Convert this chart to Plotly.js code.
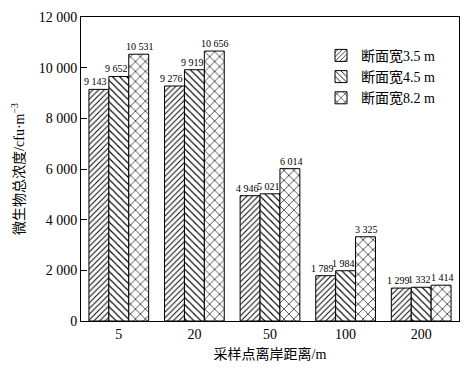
<!DOCTYPE html>
<html>
<head>
<meta charset="utf-8">
<script src="https://cdn.plot.ly/plotly-3.0.1.min.js"></script>
<style>html,body{margin:0;padding:0;background:#fff;}#chart{width:473px;height:372px;}</style>
</head>
<body>
<div id="chart"></div>
<script>
const categories = ["5", "20", "50", "100", "200"];
const seriesNames = ["断面宽3.5 m", "断面宽4.5 m", "断面宽8.2 m"];
const width35 = [9143, 9276, 4946, 1789, 1299];
const width45 = [9652, 9919, 5021, 1984, 1332];
const width82 = [10531, 10656, 6014, 3325, 1414];
const yTickVals = [0, 2000, 4000, 6000, 8000, 10000, 12000];
const yTickText = ["0", "2 000", "4 000", "6 000", "8 000", "10 000", "12 000"];

const serif = "Liberation Serif, Times New Roman, serif";
const cjk = "Liberation Serif, Noto Sans CJK SC, serif";
const fmt = v => String(v).replace(/\B(?=(\d{3})+(?!\d))/g, " ");

const patterns = [
  {shape: "/", size: 4, solidity: 0.24},
  {shape: "\\", size: 5, solidity: 0.22},
  {shape: "x", size: 7, solidity: 0.18}
];
const allSeries = [width35, width45, width82];
const data = allSeries.map((vals, i) => ({
  type: "bar",
  name: seriesNames[i],
  x: categories,
  y: vals,
  marker: {
    color: "#fff",
    line: {color: "#000", width: 1},
    pattern: Object.assign({fgcolor: "#000", bgcolor: "#fff", fgopacity: 1, fillmode: "overlay"}, patterns[i])
  },
  hoverinfo: "none"
}));

// value labels drawn above the bars (on top of all bars)
const barPx = 20;            // approx pixel width of one bar (style offset)
const labelNudge = [-3, -2, 1];
const annotations = [];
allSeries.forEach((vals, i) => {
  vals.forEach((v, j) => {
    annotations.push({
      x: j, y: v, xref: "x", yref: "y",   // j = category index on the category axis
      text: fmt(v), showarrow: false,
      xanchor: "center", yanchor: "bottom",
      xshift: (i - 1) * barPx + labelNudge[i], yshift: 0,
      font: {family: serif, size: 10, color: "#000"}
    });
  });
});

const layout = {
  width: 473, height: 372,
  margin: {l: 81, r: 14, t: 17, b: 51},
  paper_bgcolor: "#fff", plot_bgcolor: "#fff",
  barmode: "group", bargap: 0.21, bargroupgap: 0,
  showlegend: true,
  annotations: annotations,
  legend: {
    x: 0.635, y: 0.925, xanchor: "left", yanchor: "top",
    font: {family: cjk, size: 14, color: "#000"},
    bgcolor: "rgba(0,0,0,0)", borderwidth: 0,
    tracegroupgap: 0, itemwidth: 30
  },
  xaxis: {
    type: "category",
    range: [-0.5, categories.length - 0.5],
    showline: true, linecolor: "#000", linewidth: 1, mirror: true,
    ticks: "", showgrid: false, zeroline: false,
    tickfont: {family: serif, size: 14, color: "#000"},
    title: {text: "采样点离岸距离/m", font: {family: cjk, size: 14, color: "#000"}, standoff: 8}
  },
  yaxis: {
    range: [0, 12000],
    tickvals: yTickVals,
    ticktext: yTickText,
    showline: true, linecolor: "#000", linewidth: 1, mirror: true,
    ticks: "inside", ticklen: 6, tickcolor: "#000",
    showgrid: false, zeroline: false,
    tickfont: {family: serif, size: 14, color: "#000"},
    title: {text: "微生物总浓度/cfu·m<sup>−3</sup>", font: {family: cjk, size: 14, color: "#000"}, standoff: 10}
  }
};

Plotly.newPlot("chart", data, layout, {displayModeBar: false, staticPlot: true});
</script>
</body>
</html>
